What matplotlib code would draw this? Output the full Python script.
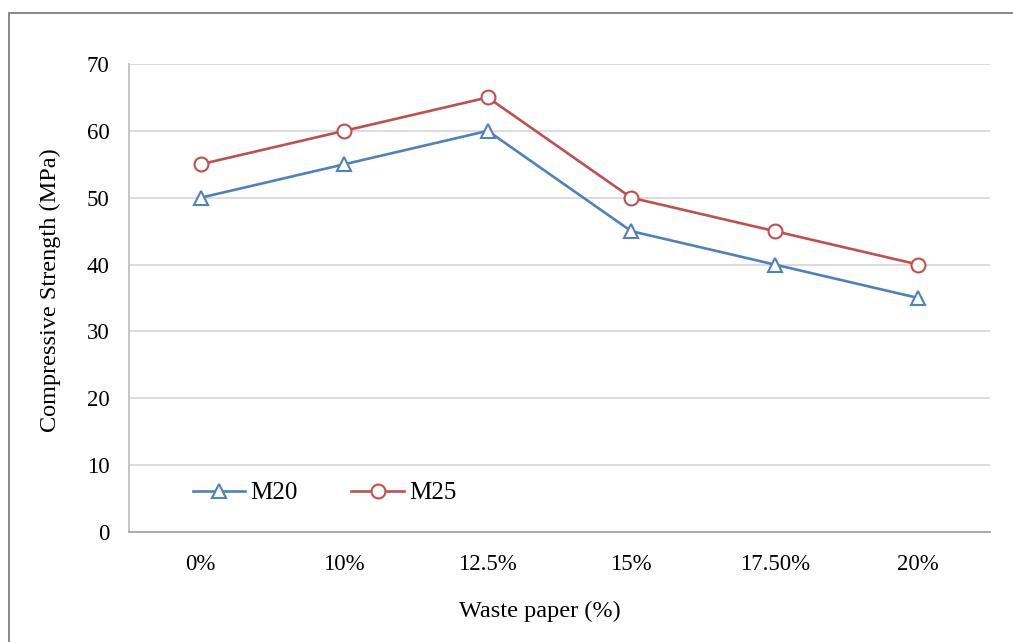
import matplotlib.pyplot as plt
from matplotlib.patches import Rectangle

# 数据
categories = ['0%', '10%', '12.5%', '15%', '17.50%', '20%']
m20 = [50, 55, 60, 45, 40, 35]
m25 = [55, 60, 65, 50, 45, 40]

plt.rcParams['font.family'] = ['Liberation Serif', 'DejaVu Serif']

fig = plt.figure(figsize=(10.13, 6.42), dpi=100)
ax = fig.add_axes([129/1013, 1 - 532/642, 861/1013, 468/642])

# 外框（左、上可见）
fig.patches.append(Rectangle((9/1013, -0.2), 1.2, 1.2 - 13/642,
                             transform=fig.transFigure, fill=False,
                             edgecolor='#7f7f7f', linewidth=1.3))

x = range(len(categories))
ax.plot(x, m20, color='#4F81BD', linewidth=1.9, marker='^', markersize=10.5,
        markerfacecolor='white', markeredgecolor='#4F81BD', markeredgewidth=1.5,
        label='M20')
ax.plot(x, m25, color='#C0504D', linewidth=1.9, marker='o', markersize=10,
        markerfacecolor='white', markeredgecolor='#C0504D', markeredgewidth=1.5,
        label='M25')

ax.set_xlim(-0.5, len(categories) - 0.5)
ax.set_ylim(0, 70)
ax.set_yticks(range(0, 71, 10))
ax.set_xticks(list(x))
ax.set_xticklabels(categories)
ax.tick_params(axis='both', length=0, labelsize=16.5, colors='black')
ax.tick_params(axis='x', pad=16)
ax.tick_params(axis='y', pad=14)

ax.grid(axis='y', color='#d9d9d9', linewidth=1.3)
ax.set_axisbelow(True)
for s in ['top', 'right']:
    ax.spines[s].set_visible(False)
ax.spines['left'].set_color('#bfbfbf')
ax.spines['left'].set_linewidth(1.3)
ax.spines['bottom'].set_color('#a6a6a6')
ax.spines['bottom'].set_linewidth(1.3)

fig.text(50/1013, 1 - 290/642, 'Compressive Strength (MPa)', fontsize=17.5,
         rotation=90, ha='center', va='center')
fig.text(540/1013, 1 - 611/642, 'Waste paper (%)', fontsize=17.5,
         ha='center', va='center')

ax.legend(loc='center left', bbox_to_anchor=(0.074, 0.083), ncol=2,
          frameon=False, fontsize=18, handlelength=2.1, handletextpad=0.2,
          columnspacing=2.15, borderaxespad=0, borderpad=0)

fig.savefig('out.png', dpi=100)
